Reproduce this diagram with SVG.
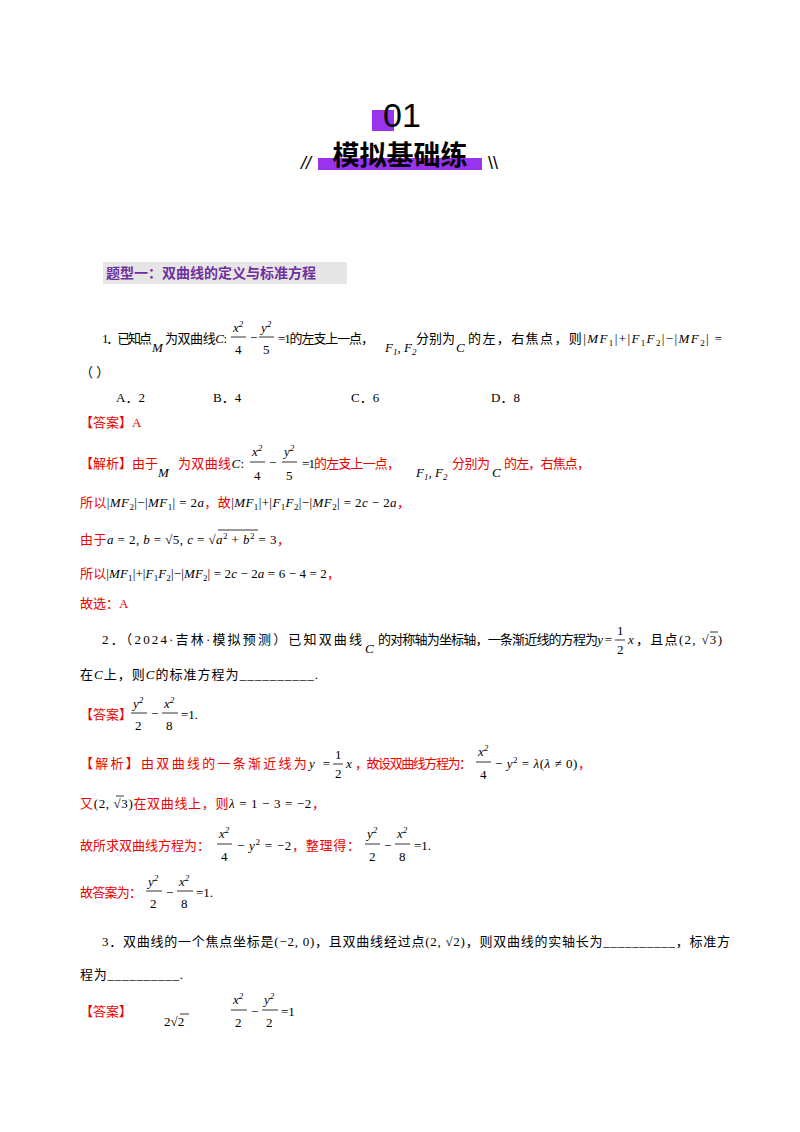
<svg xmlns="http://www.w3.org/2000/svg" width="800" height="1132" viewBox="0 0 800 1132">
<style>
text{font-family:"Liberation Serif","Noto Sans CJK SC",serif;font-size:13px;fill:#000}
.r{fill:#e00}
.k{fill:#000}
.i{font-style:italic}
.s{font-size:9px}
.f{font-size:13px}
.b{font-family:"Noto Sans CJK SC",sans-serif;font-weight:bold}
line.fr{stroke:#000;stroke-width:0.8}
</style>
<rect width="800" height="1132" fill="#fff"/>
<g id="header">
<rect x="372" y="110" width="22" height="21" fill="#9933ee"/>
<text x="402" y="127" text-anchor="middle" style="font-family:'Liberation Sans',sans-serif;font-size:34px" fill="#111">01</text>
<rect x="318" y="158" width="164" height="12" fill="#9933ee"/>
<text x="400" y="165" text-anchor="middle" class="b" style="font-size:27px">模拟基础练</text>
<text x="301" y="169" style="font-family:'Liberation Sans',sans-serif;font-size:18px;font-style:italic" fill="#9933ee">//</text>
<text x="488" y="169" style="font-family:'Liberation Sans',sans-serif;font-size:18px" fill="#9933ee">\\</text>
</g>
<g id="section">
<rect x="103" y="262" width="244" height="22" fill="#e6e6e6"/>
<text x="106" y="278" class="b" style="font-size:14px;fill:#7030a0">题型一：双曲线的定义与标准方程</text>
</g>
<g id="q1">
<text x="102" y="343" textLength="50">1．已知点</text>
<text x="152" y="352" class="i">M</text>
<text x="165" y="343" textLength="62">为双曲线<tspan class="i">C</tspan>:</text>
<text x="233" y="332" class="i f">x<tspan class="s" dy="-5">2</tspan></text>
<line class="fr" x1="231" y1="337" x2="246" y2="337"/>
<text x="235" y="354" class="f">4</text>
<text x="250" y="342">−</text>
<text x="261" y="332" class="i f">y<tspan class="s" dy="-5">2</tspan></text>
<line class="fr" x1="259" y1="337" x2="274" y2="337"/>
<text x="263" y="354" class="f">5</text>
<text x="278" y="343" textLength="96">=1的左支上一点，</text>
<text x="385" y="352" class="i">F<tspan class="s" dy="3">1</tspan><tspan dy="-3">, F</tspan><tspan class="s" dy="3">2</tspan></text>
<text x="416" y="343" textLength="39">分别为</text>
<text x="456" y="352" class="i">C</text>
<text x="468" y="343" textLength="254">的左，右焦点，则|<tspan class="i">MF</tspan><tspan class="s" dy="3">1</tspan><tspan dy="-3">|+|</tspan><tspan class="i">F</tspan><tspan class="s" dy="3">1</tspan><tspan class="i" dy="-3">F</tspan><tspan class="s" dy="3">2</tspan><tspan dy="-3">|−|</tspan><tspan class="i">MF</tspan><tspan class="s" dy="3">2</tspan><tspan dy="-3">| =</tspan></text>
<text x="80" y="377">（  ）</text>
<text x="116" y="402">A．2</text>
<text x="213" y="402">B．4</text>
<text x="351" y="402">C．6</text>
<text x="491" y="402">D．8</text>
<text x="80" y="427" class="r">【答案】A</text>
</g>
<g id="a1">
<text x="80" y="468" class="r" textLength="78">【解析】由于</text>
<text x="158" y="477" class="i">M</text>
<text x="178" y="468" class="r" textLength="66">为双曲线<tspan class="i k">C</tspan><tspan class="k">:</tspan></text>
<text x="252" y="456" class="i f">x<tspan class="s" dy="-5">2</tspan></text>
<line class="fr" x1="250" y1="462" x2="265" y2="462"/>
<text x="254" y="480" class="f">4</text>
<text x="269" y="467">−</text>
<text x="284" y="456" class="i f">y<tspan class="s" dy="-5">2</tspan></text>
<line class="fr" x1="282" y1="462" x2="297" y2="462"/>
<text x="286" y="480" class="f">5</text>
<text x="302" y="468" textLength="98">=1<tspan class="r">的左支上一点，</tspan></text>
<text x="416" y="477" class="i">F<tspan class="s" dy="3">1</tspan><tspan dy="-3">, F</tspan><tspan class="s" dy="3">2</tspan></text>
<text x="452" y="468" class="r" textLength="38">分别为</text>
<text x="492" y="477" class="i">C</text>
<text x="504" y="468" class="r" textLength="86">的左，右焦点，</text>
<text x="80" y="507" class="r" textLength="330">所以<tspan class="k">|</tspan><tspan class="i k">MF</tspan><tspan class="s k" dy="3">2</tspan><tspan class="k" dy="-3">|−|</tspan><tspan class="i k">MF</tspan><tspan class="s k" dy="3">1</tspan><tspan class="k" dy="-3">| = 2</tspan><tspan class="i k">a</tspan>，故<tspan class="k">|</tspan><tspan class="i k">MF</tspan><tspan class="s k" dy="3">1</tspan><tspan class="k" dy="-3">|+|</tspan><tspan class="i k">F</tspan><tspan class="s k" dy="3">1</tspan><tspan class="i k" dy="-3">F</tspan><tspan class="s k" dy="3">2</tspan><tspan class="k" dy="-3">|−|</tspan><tspan class="i k">MF</tspan><tspan class="s k" dy="3">2</tspan><tspan class="k" dy="-3">| = 2</tspan><tspan class="i k">c</tspan><tspan class="k"> − 2</tspan><tspan class="i k">a</tspan>，</text>
<text x="80" y="544" class="r" textLength="210">由于<tspan class="i k">a</tspan><tspan class="k"> = 2, </tspan><tspan class="i k">b</tspan><tspan class="k"> = √5, </tspan><tspan class="i k">c</tspan><tspan class="k"> = √</tspan><tspan class="i k">a</tspan><tspan class="s k" dy="-5">2</tspan><tspan class="k" dy="5"> + </tspan><tspan class="i k">b</tspan><tspan class="s k" dy="-5">2</tspan><tspan class="k" dy="5"> = 3</tspan>，</text>
<line class="fr" x1="218" y1="530" x2="258" y2="530"/>
<text x="80" y="578" class="r" textLength="260">所以<tspan class="k">|</tspan><tspan class="i k">MF</tspan><tspan class="s k" dy="3">1</tspan><tspan class="k" dy="-3">|+|</tspan><tspan class="i k">F</tspan><tspan class="s k" dy="3">1</tspan><tspan class="i k" dy="-3">F</tspan><tspan class="s k" dy="3">2</tspan><tspan class="k" dy="-3">|−|</tspan><tspan class="i k">MF</tspan><tspan class="s k" dy="3">2</tspan><tspan class="k" dy="-3">| = 2</tspan><tspan class="i k">c</tspan><tspan class="k"> − 2</tspan><tspan class="i k">a</tspan><tspan class="k"> = 6 − 4 = 2</tspan>，</text>
<text x="80" y="608" class="r">故选：A</text>
</g>
<g id="q2">
<text x="102" y="644" textLength="260">2．（2024·吉林·模拟预测）已知双曲线</text>
<text x="365" y="653" class="i">C</text>
<text x="378" y="644" textLength="234">的对称轴为坐标轴，一条渐近线的方程为<tspan class="i">y</tspan> =</text>
<text x="617" y="635" class="f">1</text>
<line class="fr" x1="615" y1="640" x2="625" y2="640"/>
<text x="617" y="654" class="f">2</text>
<text x="628" y="644" class="i">x</text>
<text x="636" y="644" textLength="86">，且点(2, √3)</text>
<line class="fr" x1="710" y1="632" x2="718" y2="632"/>
<text x="80" y="679" textLength="238">在<tspan class="i">C</tspan>上，则<tspan class="i">C</tspan>的标准方程为<tspan>__________</tspan>.</text>
<text x="80" y="719" class="r">【答案】</text>
<text x="133" y="708" class="i f">y<tspan class="s" dy="-5">2</tspan></text>
<line class="fr" x1="131" y1="713" x2="147" y2="713"/>
<text x="135" y="730" class="f">2</text>
<text x="151" y="718">−</text>
<text x="164" y="708" class="i f">x<tspan class="s" dy="-5">2</tspan></text>
<line class="fr" x1="162" y1="713" x2="178" y2="713"/>
<text x="166" y="730" class="f">8</text>
<text x="181" y="719">=1.</text>
<text x="80" y="768" class="r" textLength="250">【解析】由双曲线的一条渐近线为<tspan class="i k">y</tspan><tspan class="k"> =</tspan></text>
<text x="335" y="759" class="f">1</text>
<line class="fr" x1="333" y1="764" x2="343" y2="764"/>
<text x="335" y="778" class="f">2</text>
<text x="346" y="768" class="i">x</text>
<text x="355" y="768" class="r" textLength="117">，故设双曲线方程为：</text>
<text x="478" y="756" class="i f">x<tspan class="s" dy="-5">2</tspan></text>
<line class="fr" x1="476" y1="762" x2="491" y2="762"/>
<text x="480" y="779" class="f">4</text>
<text x="495" y="768" textLength="96">− <tspan class="i">y</tspan><tspan class="s" dy="-5">2</tspan><tspan dy="5"> = </tspan><tspan class="i">λ</tspan>(<tspan class="i">λ</tspan> ≠ 0)<tspan class="r">，</tspan></text>
<text x="80" y="808" class="r" textLength="245">又<tspan class="k">(2, √3)</tspan>在双曲线上，则<tspan class="i k">λ</tspan><tspan class="k"> = 1 − 3 = −2</tspan>，</text>
<line class="fr" x1="116" y1="796" x2="124" y2="796"/>
<text x="80" y="850" class="r" textLength="130">故所求双曲线方程为：</text>
<text x="219" y="838" class="i f">x<tspan class="s" dy="-5">2</tspan></text>
<line class="fr" x1="217" y1="844" x2="232" y2="844"/>
<text x="221" y="861" class="f">4</text>
<text x="237" y="850" textLength="123">− <tspan class="i">y</tspan><tspan class="s" dy="-5">2</tspan><tspan dy="5"> = −2</tspan><tspan class="r">，整理得：</tspan></text>
<text x="367" y="838" class="i f">y<tspan class="s" dy="-5">2</tspan></text>
<line class="fr" x1="365" y1="844" x2="380" y2="844"/>
<text x="369" y="861" class="f">2</text>
<text x="384" y="850">−</text>
<text x="397" y="838" class="i f">x<tspan class="s" dy="-5">2</tspan></text>
<line class="fr" x1="395" y1="844" x2="410" y2="844"/>
<text x="399" y="861" class="f">8</text>
<text x="414" y="850">=1.</text>
<text x="80" y="897" class="r" textLength="62">故答案为：</text>
<text x="148" y="886" class="i f">y<tspan class="s" dy="-5">2</tspan></text>
<line class="fr" x1="146" y1="891" x2="162" y2="891"/>
<text x="150" y="908" class="f">2</text>
<text x="166" y="897">−</text>
<text x="179" y="886" class="i f">x<tspan class="s" dy="-5">2</tspan></text>
<line class="fr" x1="177" y1="891" x2="193" y2="891"/>
<text x="181" y="908" class="f">8</text>
<text x="196" y="897">=1.</text>
</g>
<g id="q3">
<text x="102" y="946" textLength="628">3．双曲线的一个焦点坐标是(−2, 0)，且双曲线经过点(2, √2)，则双曲线的实轴长为<tspan>__________</tspan>，标准方</text>
<text x="80" y="979" textLength="103">程为<tspan>__________</tspan>.</text>
<text x="80" y="1016" class="r">【答案】</text>
<text x="164" y="1026">2√2</text>
<line class="fr" x1="180" y1="1014" x2="189" y2="1014"/>
<text x="233" y="1004" class="i f">x<tspan class="s" dy="-5">2</tspan></text>
<line class="fr" x1="231" y1="1010" x2="247" y2="1010"/>
<text x="235" y="1027" class="f">2</text>
<text x="251" y="1016">−</text>
<text x="264" y="1004" class="i f">y<tspan class="s" dy="-5">2</tspan></text>
<line class="fr" x1="262" y1="1010" x2="278" y2="1010"/>
<text x="266" y="1027" class="f">2</text>
<text x="281" y="1016">=1</text>
</g>
</svg>
